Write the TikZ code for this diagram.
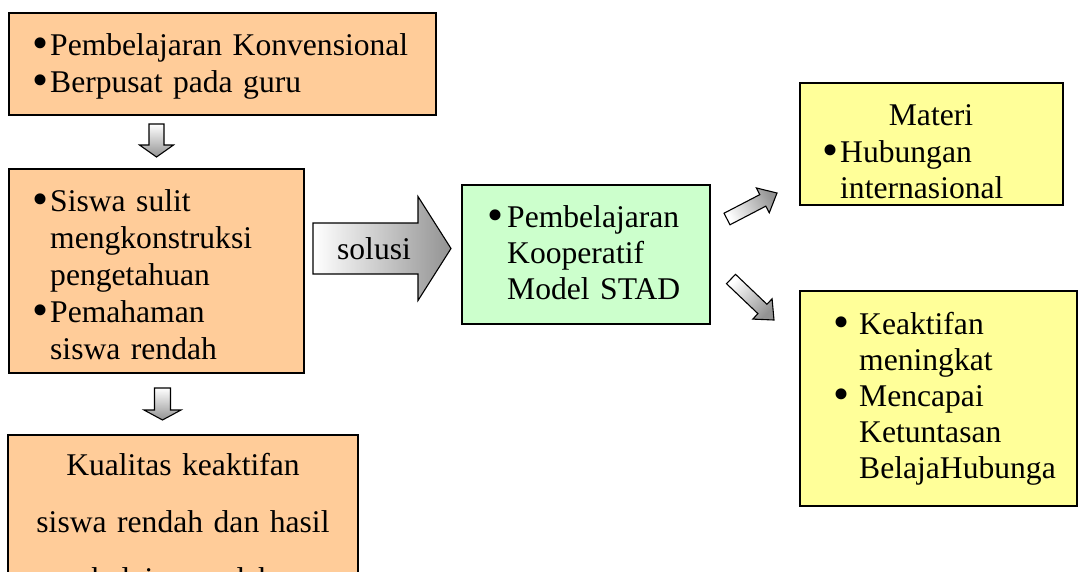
\documentclass[tikz,border=0pt]{standalone}
\usepackage{fontspec}
\setmainfont{Liberation Serif}
\usetikzlibrary{calc}

\definecolor{peach}{RGB}{255,204,153}
\definecolor{mint}{RGB}{204,255,204}
\definecolor{lemon}{RGB}{255,255,153}

% a large round bullet
\newcommand\dotmark{\smash{\raisebox{-3.5pt}{\scalebox{1.45}{\textbullet}}}}
% bulleted paragraph with hanging indent: #1 indent, #2 text
\newcommand\itm[2]{\hangindent=#1\hangafter=1\noindent\makebox[#1][l]{\dotmark}#2\par}

% block arrow from #1 to #2; #3 shaft half width, #4 head half width,
% #5 head length, #6 shading angle
\newcommand\fatarrow[6]{%
  \coordinate (#1-#2-h) at ($(#2)!#5!(#1)$);
  \path[fat, shading angle=#6]
    ($(#1)!#3!90:(#2)$) -- ($(#1-#2-h)!#3!90:(#2)$) -- ($(#1-#2-h)!#4!90:(#2)$)
    -- (#2)
    -- ($(#1-#2-h)!#4!-90:(#2)$) -- ($(#1-#2-h)!#3!-90:(#2)$) -- ($(#1)!#3!-90:(#2)$)
    -- cycle;
}

\tikzset{
  box/.style={draw=black, line width=1.4pt, anchor=north west, inner sep=0pt, outer sep=0pt},
  peachbox/.style={box, fill=peach},
  mintbox/.style={box, fill=mint},
  lemonbox/.style={box, fill=lemon},
  txt/.style={anchor=base west, inner sep=0pt, align=left, text width=#1,
    font=\fontsize{31.6}{37}\selectfont},
  ctxt/.style={anchor=base, inner sep=0pt, align=center, text width=#1,
    font=\fontsize{31.6}{57}\selectfont},
  fat/.style={draw=black, line width=1.1pt, line join=miter,
    top color=gray!85, bottom color=white},
}

\begin{document}
\begin{tikzpicture}[x=1pt, y=-1pt]
\useasboundingbox (0,0) rectangle (1078,571);
\clip (0,0) rectangle (1078,571);

% left column
\node[peachbox, minimum width=427pt, minimum height=102pt] (b1) at (9,13) {};
\node[txt=390pt] (t1) at (32,55)
  {\itm{18pt}{Pembelajaran Konvensional}\itm{18pt}{Berpusat pada guru}};

\node[peachbox, minimum width=295pt, minimum height=204pt] (b2) at (9,169) {};
\node[txt=260pt] (t2) at (32,211)
  {\itm{18pt}{Siswa sulit\newline mengkonstruksi\newline pengetahuan}\itm{18pt}{Pemahaman\newline siswa rendah}};

\node[peachbox, minimum width=350pt, minimum height=200pt] (b3) at (8,435) {};
\node[ctxt=340pt] (t3) at (183,475)
  {Kualitas keaktifan\\siswa rendah dan hasil\\belajar rendah};

% middle
\node[mintbox, minimum width=248pt, minimum height=139pt] (b4) at (462,185) {};
\node[txt=220pt, font=\fontsize{31.6}{36}\selectfont] (t4) at (487,227)
  {\itm{20pt}{Pembelajaran\newline Kooperatif\newline Model STAD}};

% right column
\node[lemonbox, minimum width=263pt, minimum height=122pt] (b5) at (800,83) {};
\node[anchor=base, inner sep=0pt, font=\fontsize{31.6}{37}\selectfont] (t5a) at (931,125) {Materi};
\node[txt=240pt, font=\fontsize{31.6}{36}\selectfont] (t5b) at (822,162)
  {\itm{18pt}{Hubungan\newline internasional}};

\node[lemonbox, minimum width=277pt, minimum height=215pt] (b6) at (800,291) {};
\node[txt=250pt, font=\fontsize{31.6}{36}\selectfont] (t6) at (833,334)
  {\itm{26pt}{Keaktifan\newline meningkat}\itm{26pt}{Mencapai\newline Ketuntasan\newline BelajaHubunga}};

% block arrows
\coordinate (d1a) at (156.5,124);
\coordinate (d1b) at (156.5,157);
\fatarrow{d1a}{d1b}{7.5pt}{17pt}{12pt}{-180}

\coordinate (d2a) at (162.5,388);
\coordinate (d2b) at (162.5,420);
\fatarrow{d2a}{d2b}{8pt}{18.5pt}{10pt}{-180}

\coordinate (sa) at (313,248.5);
\coordinate (sb) at (451,248.5);
\fatarrow{sa}{sb}{25.5pt}{52pt}{33pt}{-90}
\node[anchor=base, inner sep=0pt, font=\fontsize{31.6}{37}\selectfont] (sol) at (374,259) {solusi};

\coordinate (ua) at (727,219);
\coordinate (ub) at (777,193);
\fatarrow{ua}{ub}{6.5pt}{14pt}{16pt}{-62}

\coordinate (ra) at (731,279);
\coordinate (rb) at (774,320);
\fatarrow{ra}{rb}{6.5pt}{14pt}{16pt}{-134}
\end{tikzpicture}
\end{document}
